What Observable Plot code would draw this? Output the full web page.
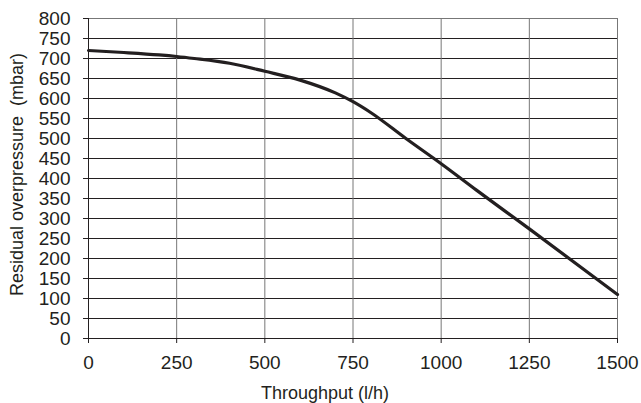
<!DOCTYPE html>
<html>
<head>
<meta charset="utf-8">
<script src="https://cdn.jsdelivr.net/npm/d3@7"></script>
<script src="https://cdn.jsdelivr.net/npm/@observablehq/plot@0.6"></script>
<style>
  html, body { margin: 0; padding: 0; background: #fff; }
  #chart svg { display: block; }
</style>
</head>
<body>
<div id="chart"></div>
<script>
const throughput = [0, 100, 200, 250, 300, 400, 500, 600, 700, 750, 800, 900, 1000, 1100, 1250, 1500];
const pressure   = [720, 715, 709, 705, 700, 688, 668, 646, 614, 592, 565, 500, 437, 371, 274, 110];
const xTicks = [0, 250, 500, 750, 1000, 1250, 1500];
const yTicks = [0, 50, 100, 150, 200, 250, 300, 350, 400, 450, 500, 550, 600, 650, 700, 750, 800];
const xTitle = "Throughput (l/h)";
const yTitle = "Residual overpressure  (mbar)";

const data = throughput.map((x, i) => ({x, y: pressure[i]}));
const font = "Liberation Sans, Arial, Helvetica, sans-serif";

const chart = Plot.plot({
  width: 641,
  height: 403,
  marginLeft: 88,
  marginRight: 24,
  marginTop: 18,
  marginBottom: 65,
  style: {fontFamily: font, background: "#fff", color: "#231f20"},
  x: {domain: [0, 1500]},
  y: {domain: [0, 800]},
  marks: [
    Plot.gridY(yTicks, {stroke: "#231f20", strokeOpacity: 1, strokeWidth: 1}),
    Plot.gridX(xTicks, {stroke: "#777", strokeOpacity: 1, strokeWidth: 1}),
    Plot.frame({stroke: "#777", strokeWidth: 1}),
    Plot.ruleX([0], {stroke: "#231f20"}),
    Plot.ruleY([0], {stroke: "#231f20"}),
    Plot.line(data, {x: "x", y: "y", stroke: "#231f20", strokeWidth: 3.2, curve: "monotone-x"}),
    Plot.axisY(yTicks, {tickSize: 5, tickPadding: 13, fontSize: 19, label: null, tickFormat: d => String(d), stroke: "#231f20", fill: "#231f20"}),
    Plot.axisX(xTicks, {tickSize: 5, tickPadding: 12, fontSize: 19, label: null, tickFormat: d => String(d), stroke: "#231f20", fill: "#231f20"}),
    Plot.text([yTitle], {frameAnchor: "left", textAnchor: "middle", lineAnchor: "middle", dx: -71, dy: -4, rotate: -90, fontSize: 18, fill: "#231f20"}),
    Plot.text([xTitle], {frameAnchor: "bottom", textAnchor: "middle", lineAnchor: "middle", dx: -28, dy: 55, fontSize: 18, fill: "#231f20"})
  ]
});
document.getElementById("chart").appendChild(chart);
</script>
</body>
</html>
